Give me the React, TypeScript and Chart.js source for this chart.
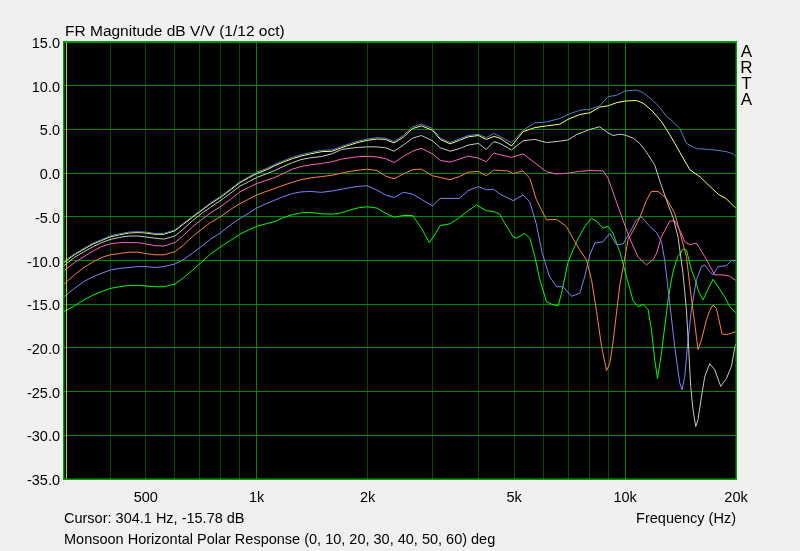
import React, { useEffect, useRef } from 'react';
import { Chart, registerables } from 'chart.js';

Chart.register(...registerables);

// ---------- data (Hz, dB) ----------
const angles = [0, 10, 20, 30, 40, 50, 60];
const colors = ['#4a84cc', '#ffff70', '#c8c8c8', '#ff60c0', '#ff8040', '#8080ff', '#00ff00'];

const deg0: number[][] = [[300,-10.1],[320,-9.25],[340,-8.6],[360,-8.0],[380,-7.6],[400,-7.2],[425,-6.95],[450,-6.75],[475,-6.7],[500,-6.75],[530,-6.9],[560,-6.9],[600,-6.5],[630,-5.8],[670,-4.95],[710,-4.15],[750,-3.4],[800,-2.65],[850,-1.8],[900,-1.0],[950,-0.45],[1000,0.1],[1060,0.5],[1120,1.0],[1180,1.4],[1250,1.8],[1320,2.1],[1400,2.35],[1500,2.6],[1600,2.65],[1700,3.05],[1800,3.4],[1900,3.7],[2000,3.9],[2120,4.05],[2240,4.0],[2360,3.6],[2500,4.3],[2650,5.3],[2800,5.6],[3000,5.1],[3150,4.0],[3350,3.5],[3550,3.9],[3750,4.3],[4000,4.45],[4200,4.05],[4400,4.55],[4571,4.2],[4918,3.5],[5288,4.9],[5689,5.75],[6118,5.85],[6650,6.25],[7004,6.7],[7534,7.2],[8022,7.3],[8538,7.7],[8993,8.75],[9477,8.9],[10000,9.4],[10737,9.5],[11189,9.2],[11912,8.3],[12420,7.5],[12950,6.5],[13494,5.9],[14071,5.1],[14673,3.4],[15619,2.8],[16973,2.7],[17877,2.6],[18841,2.45],[19634,2.2],[20000,1.9]];

const deg10: number[][] = [[300,-10.2],[320,-9.35],[340,-8.7],[360,-8.1],[380,-7.7],[400,-7.3],[425,-7.05],[450,-6.85],[475,-6.8],[500,-6.85],[530,-7.0],[560,-7.0],[600,-6.6],[630,-5.9],[670,-5.05],[710,-4.25],[750,-3.5],[800,-2.75],[850,-1.9],[900,-1.1],[950,-0.55],[1000,-0.05],[1060,0.35],[1120,0.85],[1180,1.25],[1250,1.65],[1320,1.95],[1400,2.2],[1500,2.45],[1600,2.5],[1700,2.9],[1800,3.25],[1900,3.55],[2000,3.75],[2120,3.9],[2240,3.85],[2360,3.45],[2500,4.1],[2650,5.1],[2800,5.4],[3000,4.9],[3150,3.85],[3350,3.35],[3550,3.75],[3750,4.15],[4000,4.3],[4200,3.85],[4400,4.2],[4571,4.0],[4918,3.1],[5288,4.75],[5689,5.2],[6118,5.4],[6650,5.6],[7004,6.15],[7534,6.7],[8022,6.9],[8538,7.55],[8993,7.7],[9477,8.05],[10000,8.25],[10737,8.3],[11189,8.0],[11793,7.2],[12553,5.9],[13220,4.4],[14071,2.4],[14977,0.4],[16000,-0.45],[16973,-1.5],[17877,-2.4],[18841,-2.95],[19842,-3.9],[20000,-4.0]];

const deg20: number[][] = [[300,-10.6],[320,-9.65],[340,-9.0],[360,-8.4],[380,-7.95],[400,-7.6],[425,-7.35],[450,-7.2],[475,-7.2],[500,-7.3],[530,-7.45],[560,-7.55],[600,-7.2],[630,-6.45],[670,-5.45],[710,-4.6],[750,-3.9],[800,-3.1],[850,-2.3],[900,-1.5],[950,-1.0],[1000,-0.5],[1060,-0.1],[1120,0.3],[1180,0.75],[1250,1.2],[1320,1.55],[1400,1.75],[1500,1.9],[1600,2.2],[1700,2.7],[1800,2.85],[1900,2.95],[2000,3.0],[2120,3.0],[2240,2.9],[2360,2.5],[2500,3.2],[2650,4.0],[2800,4.3],[3000,3.7],[3150,2.9],[3350,2.5],[3550,2.8],[3750,3.2],[4000,3.4],[4200,2.7],[4400,3.6],[4571,3.4],[4918,2.65],[5288,3.7],[5689,3.85],[6118,3.5],[6650,3.65],[7004,3.8],[7380,4.4],[8022,5.0],[8538,5.3],[8993,4.6],[9278,4.3],[9676,4.45],[10000,4.35],[10513,4.0],[10962,3.4],[11429,2.4],[12039,0.9],[12420,-0.9],[12950,-3.1],[13494,-5.1],[13923,-7.3],[14363,-11.5],[14673,-15.7],[14884,-20.2],[15071,-24.4],[15291,-27.1],[15550,-29.0],[15774,-28.2],[16115,-25.6],[16449,-23.3],[16973,-21.8],[17512,-22.5],[18180,-24.4],[18841,-23.5],[19440,-22.1],[19842,-20.0],[20000,-19.5]];

const deg30: number[][] = [[300,-11.15],[320,-10.25],[340,-9.55],[360,-8.9],[380,-8.4],[400,-8.1],[425,-7.95],[450,-7.95],[475,-7.95],[500,-8.1],[530,-8.3],[560,-8.35],[600,-7.95],[630,-7.2],[670,-6.15],[710,-5.3],[750,-4.55],[800,-3.8],[850,-3.0],[900,-2.15],[950,-1.65],[1000,-1.2],[1060,-0.85],[1120,-0.5],[1180,-0.05],[1250,0.45],[1320,0.75],[1400,0.95],[1500,1.1],[1600,1.3],[1700,1.6],[1800,1.75],[1900,1.9],[2000,1.9],[2120,1.85],[2240,1.65],[2360,1.2],[2500,1.9],[2650,2.5],[2800,2.85],[3000,2.2],[3150,1.45],[3350,1.25],[3550,1.6],[3750,1.95],[4000,1.7],[4200,1.3],[4400,2.3],[4571,2.1],[4918,1.8],[5288,2.2],[5620,1.35],[6118,0.15],[6517,-0.1],[7004,0.0],[7534,0.2],[8022,0.3],[8716,0.25],[8993,-0.6],[9277,-2.2],[9477,-3.3],[9876,-5.4],[10298,-7.5],[10845,-9.6],[11429,-10.5],[11912,-9.9],[12168,-9.2],[12553,-7.3],[13220,-5.5],[13638,-5.45],[14071,-6.5],[14516,-7.85],[14977,-8.2],[15619,-8.0],[16449,-9.55],[17512,-11.65],[18446,-11.65],[19231,-11.8],[20000,-12.3]];

const deg40: number[][] = [[300,-12.7],[320,-11.65],[340,-10.8],[360,-10.15],[380,-9.65],[400,-9.35],[425,-9.2],[450,-9.05],[475,-9.05],[500,-9.2],[530,-9.35],[560,-9.35],[600,-9.0],[630,-8.3],[670,-7.25],[710,-6.4],[750,-5.65],[800,-4.95],[850,-4.15],[900,-3.5],[950,-3.0],[1000,-2.5],[1060,-2.1],[1120,-1.75],[1180,-1.4],[1250,-1.05],[1320,-0.75],[1400,-0.55],[1500,-0.4],[1600,-0.25],[1700,0.0],[1800,0.2],[1900,0.35],[2000,0.45],[2120,0.3],[2240,-0.35],[2360,-0.65],[2500,-0.1],[2650,0.4],[2800,0.45],[3000,-0.3],[3150,-0.5],[3350,-0.75],[3550,-0.4],[3750,0.1],[4000,0.2],[4200,-0.3],[4400,0.35],[4571,0.3],[4800,0.25],[4970,-0.05],[5288,0.25],[5514,-0.6],[5740,-3.0],[6118,-5.35],[6517,-5.3],[6930,-6.1],[7260,-7.65],[7534,-8.8],[7860,-9.95],[8107,-12.2],[8365,-15.8],[8630,-19.8],[8903,-22.6],[9089,-21.8],[9278,-19.3],[9477,-16.0],[9676,-12.8],[9876,-10.8],[10189,-7.6],[10513,-6.6],[10962,-5.1],[11429,-3.1],[11793,-2.1],[12289,-2.1],[12950,-2.9],[13638,-4.6],[14071,-6.7],[14673,-9.55],[14977,-12.8],[15454,-17.2],[15774,-20.2],[16115,-19.1],[16625,-16.8],[16973,-15.7],[17325,-15.1],[17701,-15.5],[18331,-18.4],[18841,-18.5],[19440,-18.3],[20000,-18.15]];

const deg50: number[][] = [[300,-14.15],[320,-13.2],[340,-12.4],[360,-11.85],[380,-11.45],[400,-11.1],[425,-10.9],[450,-10.8],[475,-10.7],[500,-10.7],[530,-10.8],[560,-10.7],[600,-10.4],[630,-9.95],[670,-9.15],[710,-8.35],[750,-7.55],[800,-6.8],[850,-5.9],[900,-5.2],[950,-4.6],[1000,-4.0],[1060,-3.5],[1120,-3.1],[1180,-2.7],[1250,-2.35],[1320,-2.15],[1400,-2.1],[1500,-2.2],[1600,-2.05],[1700,-1.85],[1800,-1.65],[1900,-1.5],[2000,-1.45],[2120,-1.95],[2240,-2.5],[2360,-2.8],[2500,-2.2],[2650,-2.4],[2800,-3.0],[3000,-3.75],[3150,-2.9],[3350,-2.9],[3550,-2.9],[3750,-2.0],[4000,-1.55],[4200,-1.9],[4400,-1.85],[4571,-2.4],[4970,-3.15],[5288,-2.5],[5514,-3.3],[5740,-5.8],[5960,-9.2],[6230,-11.8],[6517,-13.0],[6788,-13.0],[7155,-14.1],[7534,-13.75],[7775,-11.8],[8022,-9.35],[8276,-8.0],[8716,-7.85],[9089,-6.9],[9477,-8.2],[9876,-8.1],[10298,-6.8],[10737,-5.35],[11079,-5.0],[11668,-6.1],[12168,-6.8],[12553,-7.85],[12813,-10.0],[13220,-14.9],[13638,-19.9],[14071,-24.0],[14274,-24.8],[14516,-23.3],[14819,-19.1],[15137,-15.6],[15619,-12.2],[16115,-10.7],[16449,-10.5],[16973,-11.3],[17325,-11.65],[17877,-10.7],[18841,-10.6],[19440,-10.0],[20000,-10.0]];

const deg60: number[][] = [[300,-15.85],[320,-15.2],[340,-14.5],[360,-13.95],[380,-13.55],[400,-13.2],[425,-13.0],[450,-12.85],[475,-12.85],[500,-12.9],[530,-13.0],[560,-13.0],[600,-12.7],[630,-12.05],[670,-11.1],[710,-10.15],[750,-9.25],[800,-8.4],[850,-7.7],[900,-7.0],[950,-6.5],[1000,-6.1],[1060,-5.8],[1120,-5.55],[1180,-5.1],[1250,-4.75],[1320,-4.55],[1400,-4.5],[1500,-4.65],[1600,-4.7],[1700,-4.55],[1800,-4.2],[1900,-3.95],[2000,-3.85],[2120,-4.0],[2240,-4.6],[2360,-5.05],[2500,-4.85],[2650,-4.85],[2800,-6.3],[2940,-7.95],[3050,-7.0],[3150,-6.0],[3350,-5.8],[3550,-5.1],[3750,-4.3],[3950,-3.65],[4200,-4.3],[4400,-4.4],[4571,-4.7],[4716,-5.75],[4970,-7.3],[5075,-7.45],[5340,-6.9],[5514,-7.45],[5689,-9.55],[5870,-12.2],[6118,-14.7],[6317,-15.0],[6580,-15.2],[6721,-13.75],[7004,-10.15],[7380,-7.85],[7775,-6.1],[8107,-5.15],[8365,-5.5],[8716,-6.3],[8993,-6.1],[9278,-6.9],[9674,-9.0],[10088,-11.85],[10513,-14.6],[10845,-15.3],[11189,-15.0],[11546,-15.6],[11793,-17.95],[12039,-21.4],[12244,-23.5],[12553,-20.6],[12678,-19.1],[12950,-16.05],[13079,-14.5],[13361,-12.2],[13494,-11.3],[13783,-10.0],[13923,-9.55],[14363,-8.7],[14673,-8.8],[15137,-11.1],[15619,-12.6],[15774,-13.4],[16276,-14.5],[16794,-13.3],[17325,-12.15],[17877,-13.0],[18642,-14.15],[19231,-15.3],[20000,-16.0]];

const series = [deg0, deg10, deg20, deg30, deg40, deg50, deg60];

const xGridValues = [400, 500, 600, 700, 800, 900, 1000, 2000, 3000, 4000, 5000, 6000, 7000, 8000, 9000, 10000, 20000];
const xMajorValues = [1000, 10000];
const xLabelValues = [500, 1000, 2000, 5000, 10000, 20000];
const xLabelTexts = ['500', '1k', '2k', '5k', '10k', '20k'];
const yTickValues = [15, 10, 5, 0, -5, -10, -15, -20, -25, -30, -35];
const cursorHz = 304.1;

const titleText = 'FR Magnitude dB V/V (1/12 oct)';
const cursorText = 'Cursor: 304.1 Hz, -15.78 dB';
const xAxisTitle = 'Frequency (Hz)';
const footerText = 'Monsoon Horizontal Polar Response (0, 10, 20, 30, 40, 50, 60) deg';
const brandLetters = ['A', 'R', 'T', 'A'];

const FONT = '"Liberation Sans", Arial, sans-serif';

const decorPlugin = {
  id: 'artaDecor',
  beforeDraw(chart: any) {
    const { ctx, chartArea: a } = chart;
    ctx.save();
    ctx.fillStyle = '#f0f0f0';
    ctx.fillRect(0, 0, chart.width, chart.height);
    ctx.fillStyle = '#000000';
    ctx.fillRect(a.left, a.top, a.right - a.left, a.bottom - a.top);
    ctx.restore();
  },
  afterDatasetsDraw(chart: any) {
    const { ctx, chartArea: a, scales } = chart;
    const cx = Math.round(scales.x.getPixelForValue(cursorHz)) + 0.5;
    ctx.save();
    ctx.strokeStyle = '#d8c800';
    ctx.lineWidth = 1;
    ctx.beginPath();
    ctx.moveTo(cx, a.top);
    ctx.lineTo(cx, a.bottom);
    ctx.stroke();
    ctx.restore();
  },
  afterDraw(chart: any) {
    const { ctx, chartArea: a, scales } = chart;
    ctx.save();
    // frame
    ctx.strokeStyle = '#00a000';
    ctx.lineWidth = 1.5;
    ctx.strokeRect(a.left - 0.25, a.top - 0.25, a.right - a.left + 0.5, a.bottom - a.top + 0.5);

    ctx.fillStyle = '#000000';
    // y tick labels
    ctx.font = `14.5px ${FONT}`;
    ctx.textAlign = 'right';
    ctx.textBaseline = 'alphabetic';
    yTickValues.forEach((v) => {
      const y = scales.y.getPixelForValue(v);
      ctx.fillText(v.toFixed(1), a.left - 4, y + 6);
    });
    // x tick labels
    ctx.textAlign = 'center';
    xLabelValues.forEach((v, i) => {
      const x = scales.x.getPixelForValue(v);
      ctx.fillText(xLabelTexts[i], x, a.bottom + 22.5);
    });
    // cursor + axis title
    ctx.textAlign = 'left';
    ctx.fillText(cursorText, a.left, a.bottom + 44);
    ctx.textAlign = 'right';
    ctx.fillText(xAxisTitle, a.right, a.bottom + 44);
    ctx.textAlign = 'left';
    ctx.fillText(footerText, a.left, a.bottom + 65);
    // title
    ctx.font = `15.5px ${FONT}`;
    ctx.fillText(titleText, a.left + 1, a.top - 6);
    // ARTA
    ctx.font = `17px ${FONT}`;
    ctx.textAlign = 'center';
    brandLetters.forEach((ch, i) => {
      ctx.fillText(ch, a.right + 10.5, a.top + 15 + i * 16);
    });
    ctx.restore();
  },
};

export default function App() {
  const canvasRef = useRef<HTMLCanvasElement | null>(null);

  useEffect(() => {
    const canvas = canvasRef.current;
    if (!canvas) return;
    const chart = new Chart(canvas, {
      type: 'line',
      data: {
        datasets: series.map((s, i) => ({
          label: `${angles[i]} deg`,
          data: s.map(([x, y]) => ({ x, y })),
          borderColor: colors[i],
          backgroundColor: colors[i],
          borderWidth: 1,
          pointRadius: 0,
          pointHoverRadius: 0,
          fill: false,
          tension: 0,
        })),
      },
      options: {
        responsive: false,
        animation: false,
        devicePixelRatio: 1,
        events: [],
        layout: { padding: { top: 42, right: 64, left: 0, bottom: 0 } },
        plugins: {
          legend: { display: false },
          tooltip: { enabled: false },
          title: { display: false },
        },
        scales: {
          x: {
            type: 'logarithmic',
            min: 300,
            max: 20000,
            afterBuildTicks: (scale: any) => {
              scale.ticks = xGridValues.map((v) => ({ value: v }));
            },
            afterFit: (scale: any) => {
              scale.height = 72;
            },
            ticks: { display: false },
            border: { display: false },
            grid: {
              drawTicks: false,
              lineWidth: 1,
              color: (ctx: any) =>
                ctx.tick && xMajorValues.includes(ctx.tick.value) ? '#008800' : '#004c00',
            },
          },
          y: {
            type: 'linear',
            min: -35,
            max: 15,
            afterBuildTicks: (scale: any) => {
              scale.ticks = yTickValues.map((v) => ({ value: v }));
            },
            afterFit: (scale: any) => {
              scale.width = 64;
            },
            ticks: { display: false },
            border: { display: false },
            grid: { drawTicks: false, lineWidth: 1, color: '#008800' },
          },
        },
      },
      plugins: [decorPlugin],
    } as any);
    return () => chart.destroy();
  }, []);

  return (
    <div style={{ position: 'fixed', left: 0, top: 0, width: 800, height: 551, background: '#f0f0f0' }}>
      <canvas ref={canvasRef} width={800} height={551} style={{ display: 'block' }} />
    </div>
  );
}
